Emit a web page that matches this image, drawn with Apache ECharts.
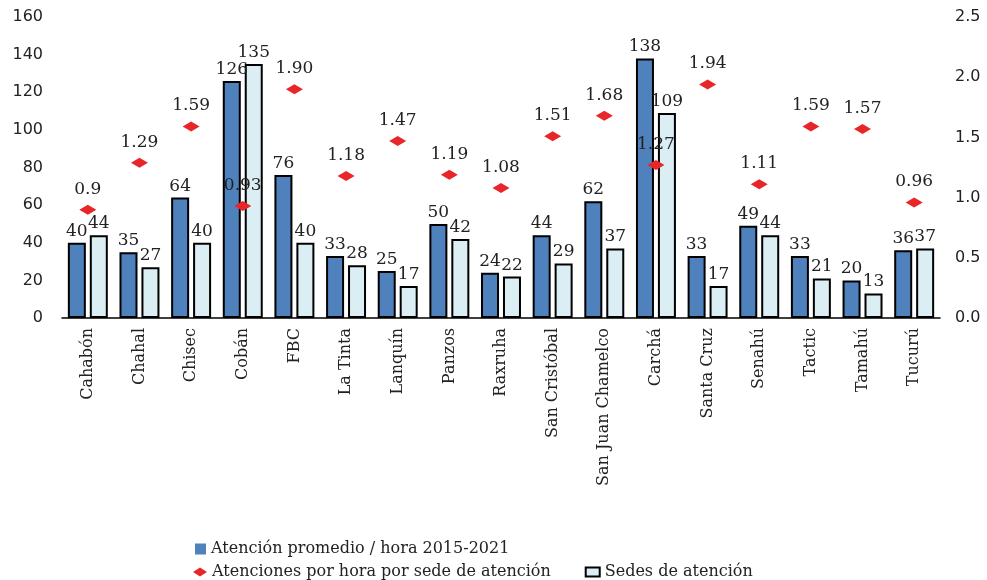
<!DOCTYPE html>
<html>
<head>
<meta charset="utf-8">
<script src="https://cdn.jsdelivr.net/npm/echarts@6/dist/echarts.min.js"></script>
<style>
  html, body { margin: 0; padding: 0; background: #fff; }
  #main { width: 987px; height: 580px; }
</style>
</head>
<body>
<div id="main"></div>
<script>
// categorías (municipios)
const categories = ['Cahabón', 'Chahal', 'Chisec', 'Cobán', 'FBC', 'La Tinta', 'Lanquín', 'Panzos',
  'Raxruha', 'San Cristóbal', 'San Juan Chamelco', 'Carchá', 'Santa Cruz', 'Senahú', 'Tactic', 'Tamahú', 'Tucurú']
// atención promedio / hora 2015-2021
const promedio = [40, 35, 64, 126, 76, 33, 25, 50, 24, 44, 62, 138, 33, 49, 33, 20, 36]
// sedes de atención
const sedes = [44, 27, 40, 135, 40, 28, 17, 42, 22, 29, 37, 109, 17, 44, 21, 13, 37]
// atenciones por hora por sede
const porSede = [0.9, 1.29, 1.59, 0.93, 1.90, 1.18, 1.47, 1.19, 1.08, 1.51, 1.68, 1.27, 1.94, 1.11, 1.59, 1.57, 0.96]
const porSedeLabels = ['0.9', '1.29', '1.59', '0.93', '1.90', '1.18', '1.47', '1.19', '1.08', '1.51', '1.68', '1.27', '1.94', '1.11', '1.59', '1.57', '0.96']

const serif = "'DejaVu Serif', serif"
const sans = "'DejaVu Sans', sans-serif"

const myChart = echarts.init(document.getElementById('main'))

const options = {
  animation: false,
  grid: { left: 62, right: 47, top: 17, bottom: 262 },
  legend: [
    {
      left: 190, top: 536,
      itemWidth: 11, itemHeight: 11,
      textStyle: { fontFamily: serif, fontSize: 16, color: '#222' },
      data: [{ name: 'Atención promedio / hora 2015-2021', icon: 'rect', itemStyle: { borderWidth: 0 } }]
    },
    {
      left: 188, top: 559, itemGap: 34,
      itemWidth: 14, itemHeight: 9,
      textStyle: { fontFamily: serif, fontSize: 16, color: '#222' },
      data: [
        { name: 'Atenciones por hora por sede de atención', icon: 'diamond' },
        { name: 'Sedes de atención', icon: 'rect', itemStyle: { borderWidth: 2, borderColor: '#000' } }
      ]
    }
  ],
  xAxis: {
    type: 'category',
    data: categories,
    axisLine: { lineStyle: { color: '#000', width: 1.5 } },
    axisTick: { show: false },
    axisLabel: { rotate: 90, margin: 10, interval: 0, fontFamily: serif, fontSize: 16, color: '#222' }
  },
  yAxis: [
    {
      type: 'value', min: 0, max: 160, interval: 20,
      axisLine: { show: false }, axisTick: { show: false }, splitLine: { show: false },
      axisLabel: { margin: 19, fontFamily: sans, fontSize: 16, color: '#222' }
    },
    {
      type: 'value', min: 0, max: 2.5, interval: 0.5,
      axisLine: { show: false }, axisTick: { show: false }, splitLine: { show: false },
      axisLabel: { margin: 15, fontFamily: sans, fontSize: 16, color: '#222', formatter: v => v.toFixed(1) }
    }
  ],
  series: [
    {
      name: 'Atención promedio / hora 2015-2021',
      type: 'bar',
      data: promedio,
      barWidth: 18,
      barGap: '22%',
      itemStyle: { color: '#4F81BD', borderColor: '#000', borderWidth: 2 },
      label: { show: true, position: 'top', distance: 3, fontFamily: serif, fontSize: 17, color: '#222' }
    },
    {
      name: 'Sedes de atención',
      type: 'bar',
      data: sedes,
      barWidth: 18,
      itemStyle: { color: '#DAEEF3', borderColor: '#000', borderWidth: 2 },
      label: { show: true, position: 'top', distance: 3, fontFamily: serif, fontSize: 17, color: '#222' }
    },
    {
      name: 'Atenciones por hora por sede de atención',
      type: 'scatter',
      yAxisIndex: 1,
      data: porSede,
      symbol: 'diamond',
      symbolSize: [17, 10],
      z: 5,
      itemStyle: { color: '#E8262A', opacity: 1 },
      label: {
        show: true, position: 'top', distance: 7,
        fontFamily: serif, fontSize: 17, color: '#222',
        formatter: p => porSedeLabels[p.dataIndex]
      }
    }
  ]
}

myChart.setOption(options)
</script>
</body>
</html>
